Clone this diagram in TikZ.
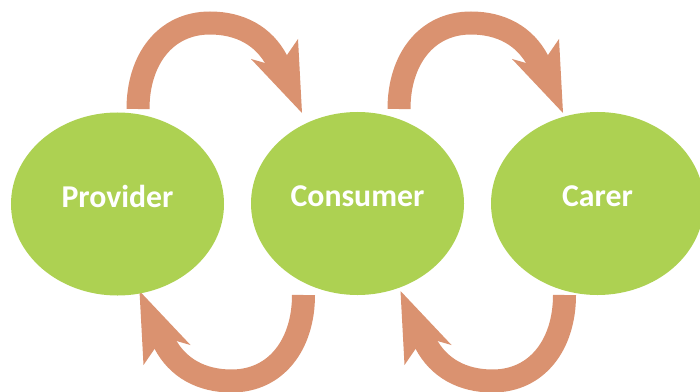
\documentclass[tikz,border=0pt]{standalone}
\usepackage{fontspec}
\newfontfamily\labelfont{Carlito}
\usepackage{tikz}
\usetikzlibrary{shapes.geometric}

\definecolor{leafgreen}{RGB}{173,209,82}
\definecolor{clayorange}{RGB}{218,146,112}

\tikzset{
  party/.style={ellipse, fill=leafgreen, inner sep=0pt,
    minimum width=53.25mm, minimum height=45.75mm,
    text height=4mm, text depth=2.5mm, text=white,
    font=\labelfont\bfseries\fontsize{22.6}{26}\selectfont},
  bendshaft/.style={draw=clayorange, line width=5.75mm},
  bendhead/.style={fill=clayorange},
  bendarrow/.pic={
    \draw[bendshaft] (138,109) .. controls (138,60) and (165,23) .. (210,23)
      .. controls (240,23) and (264,36) .. (277,61);
    \fill[bendhead] (265,63) -- (251,59) -- (302,113) -- (298,39) -- (287,55) -- cycle;
  }
}

\begin{document}
\begin{tikzpicture}[x=0.25mm, y=-0.25mm]
        \useasboundingbox (0,0) rectangle (700,391);
        % arrows over the top and under the bottom
        \pic at (0,0) {bendarrow};
        \pic at (261,0) {bendarrow};
        \pic[rotate=180] at (441.5,404) {bendarrow};
        \pic[rotate=180] at (702.5,404) {bendarrow};
        % the three parties
        \node[party] (prov) at (117.5,204) {Provider};
        \node[party] (cons) at (357.5,203.5) {Consumer};
        \node[party] (carer) at (597.5,203.5) {Carer};
      \end{tikzpicture}
\end{document}
